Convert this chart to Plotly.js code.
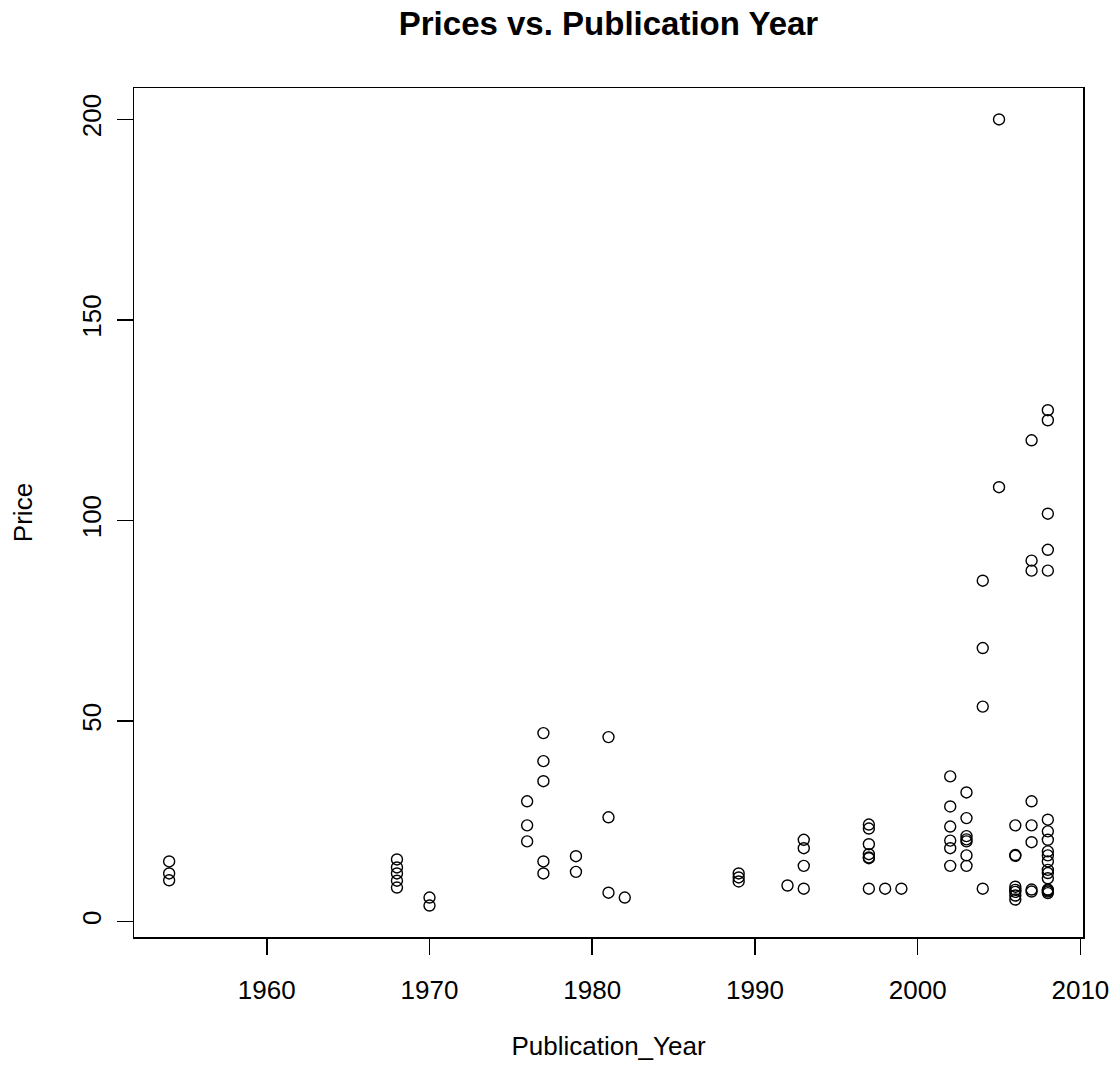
<!DOCTYPE html>
<html>
<head>
<meta charset="utf-8">
<script src="https://cdn.plot.ly/plotly-3.0.1.min.js"></script>
<style>html,body{margin:0;padding:0;background:#fff;}#chart{width:1120px;height:1078px;}</style>
</head>
<body>
<div id="chart"></div>
<script>
const publicationYear = [
  1954,1954,1954,
  1968,1968,1968,1968,1968,
  1970,1970,
  1976,1976,1976,
  1977,1977,1977,1977,1977,
  1979,1979,
  1981,1981,1981,
  1982,
  1989,1989,1989,
  1992,
  1993,1993,1993,1993,
  1997,1997,1997,1997,1997,1997,1997,
  1998,
  1999,
  2002,2002,2002,2002,2002,2002,
  2003,2003,2003,2003,2003,2003,2003,
  2004,2004,2004,2004,
  2005,2005,
  2006,2006,2006,2006,2006,2006,2006,2006,
  2007,2007,2007,2007,2007,2007,2007,2007,
  2008,2008,2008,2008,2008,2008,2008,2008,2008,2008,2008,2008,2008,2008,2008,2008,2008,2008
];
const price = [
  15,12,10.3,
  15.5,13.5,12,10.2,8.5,
  6,4,
  30,24,20,
  47,40,35,15,12,
  16.3,12.4,
  46,26,7.2,
  6,
  12,11,10,
  9,
  20.4,18.3,13.9,8.2,
  24.2,23.2,19.3,16.8,16,15.8,8.2,
  8.2,
  8.2,
  36.2,28.7,23.7,20.2,18.3,13.9,
  32.2,25.8,21.3,20.5,20,16.5,13.9,
  85,68.2,53.6,8.2,
  200,108.3,
  24,16.6,16.4,8.7,7.9,7.4,6.5,5.5,
  120,90,87.5,30,24,19.8,8,7.5,
  127.5,125,101.7,92.7,87.5,25.4,22.5,20.4,17.5,16.5,15,12.9,12.1,10.8,8,7.8,7.5,7.1
];
const chartTitle = "Prices vs. Publication Year";
const xLabel = "Publication_Year";
const yLabel = "Price";
const xTicks = [1960,1970,1980,1990,2000,2010];
const yTicks = [0,50,100,150,200];

const font = "Liberation Sans, Arial, sans-serif";

const trace = {
  type: "scatter",
  mode: "markers",
  x: publicationYear,
  y: price,
  marker: {symbol: "circle-open", size: 11, color: "#000", line: {width: 1.4, color: "#000"}},
  hoverinfo: "x+y"
};

const layout = {
  width: 1120,
  height: 1078,
  paper_bgcolor: "#fff",
  plot_bgcolor: "#fff",
  margin: {l: 134, r: 37, t: 88, b: 141},
  showlegend: false,
  title: {
    text: "<b>" + chartTitle + "</b>",
    font: {family: font, size: 33, color: "#000"},
    x: 0.5, xref: "paper", xanchor: "center",
    y: 1 - 23/1078, yref: "container", yanchor: "middle"
  },
  xaxis: {
    range: [1951.84, 2010.16],
    tickvals: xTicks,
    ticktext: xTicks.map(String),
    ticks: "outside", ticklen: 16, tickwidth: 1.5, tickcolor: "#000",
    showline: true, mirror: true, linecolor: "#000", linewidth: 1.5,
    showgrid: false, zeroline: false,
    tickfont: {family: font, size: 26, color: "#000"},
    ticklabelstandoff: 13,
    title: {text: xLabel, font: {family: font, size: 26, color: "#000"}, standoff: 33}
  },
  yaxis: {
    range: [-3.84, 207.84],
    tickvals: yTicks,
    ticktext: yTicks.map(String),
    tickangle: -90,
    ticks: "outside", ticklen: 16, tickwidth: 1.5, tickcolor: "#000",
    showline: true, mirror: true, linecolor: "#000", linewidth: 1.5,
    showgrid: false, zeroline: false,
    tickfont: {family: font, size: 26, color: "#000"},
    ticklabelstandoff: 5,
    title: {text: yLabel, font: {family: font, size: 26, color: "#000"}, standoff: 37}
  }
};

Plotly.newPlot("chart", [trace], layout, {displayModeBar: false, staticPlot: true});
</script>
</body>
</html>
